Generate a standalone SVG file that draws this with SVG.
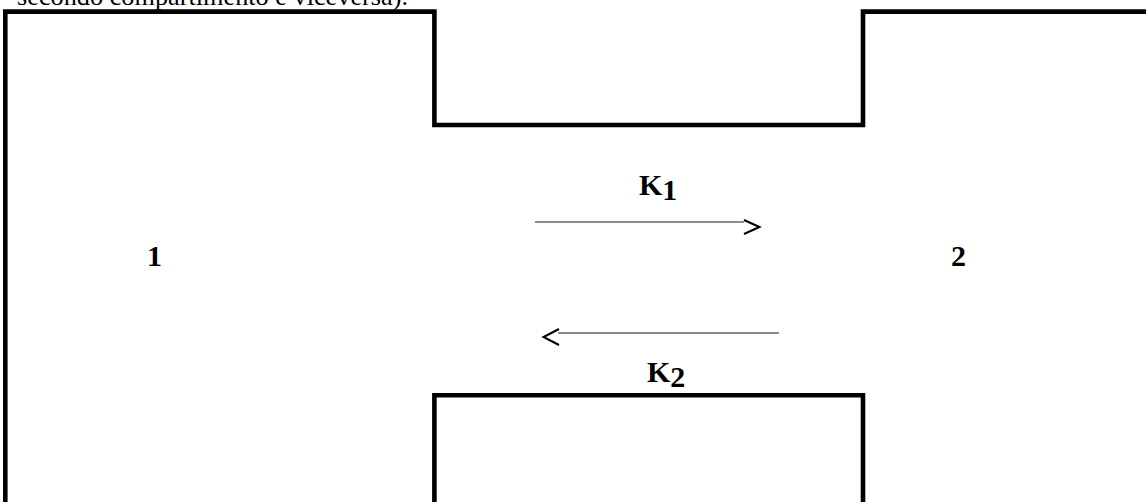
<svg xmlns="http://www.w3.org/2000/svg" width="1146" height="502" viewBox="0 0 1146 502">
<style>
.wall{fill:none;stroke:#000;stroke-width:4.6;stroke-linejoin:miter;stroke-linecap:butt}
.lbl{font-family:"Liberation Serif","Times New Roman",serif;font-weight:bold;font-size:30px;fill:#000}
.cap{font-family:"Liberation Serif","Times New Roman",serif;font-size:26px;fill:#000}
.conn{stroke:#666;stroke-width:1.3;fill:none}
.head{stroke:#000;stroke-width:2;fill:none;stroke-linejoin:miter}
</style>
<rect width="1146" height="502" fill="#fff"/>
<text class="cap" x="17" y="5" textLength="391" lengthAdjust="spacingAndGlyphs">secondo compartimento e viceversa).</text>
<g id="compartment-walls">
<path class="wall" d="M5.3,502 V11.6 H434.4 V125 H863 V11.6 H1146"/>
<path class="wall" d="M434.4,502 V395.2 H863 V502"/>
</g>
<g id="node-1"><text class="lbl" x="147" y="266">1</text></g>
<g id="node-2"><text class="lbl" x="951" y="266">2</text></g>
<g id="connectors">
<g id="k1-arrow">
<line class="conn" x1="535" y1="222" x2="744" y2="222"/>
<polyline class="head" points="744,220 759.5,227 744,234"/>
<text class="lbl" x="639" y="195">K<tspan dy="5">1</tspan></text>
</g>
<g id="k2-arrow">
<line class="conn" x1="558" y1="333" x2="779" y2="333"/>
<polyline class="head" points="559,329 543.5,337 559,345"/>
<text class="lbl" x="647" y="382">K<tspan dy="5">2</tspan></text>
</g>
</g>
</svg>
